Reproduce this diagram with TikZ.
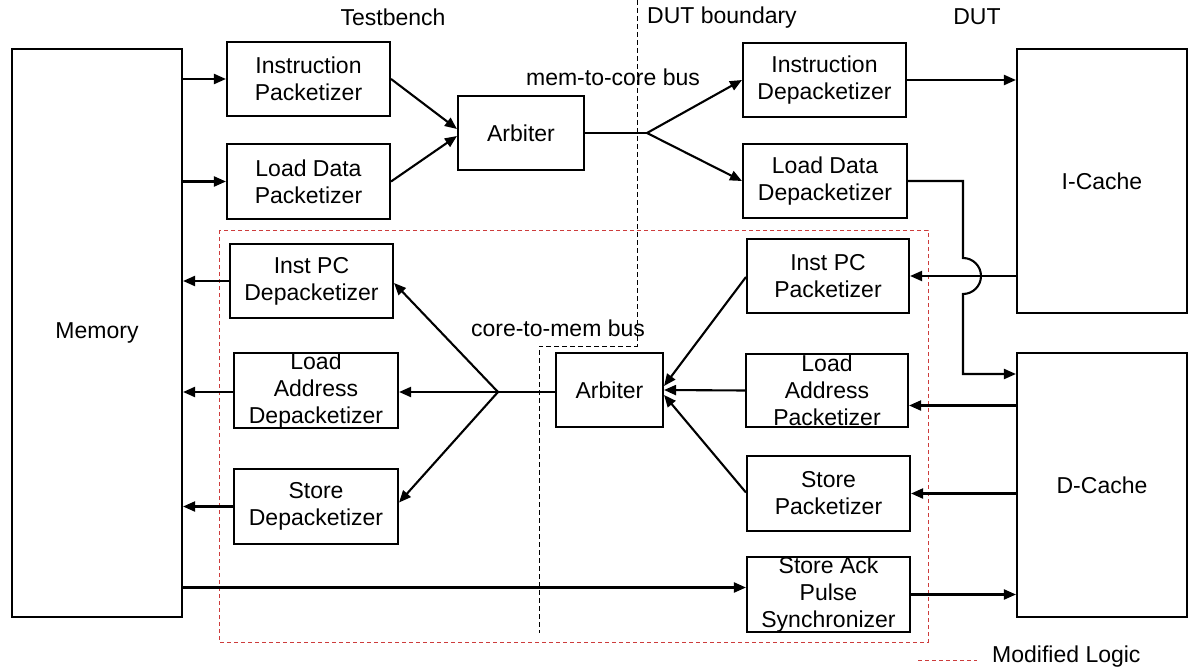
\documentclass[tikz,border=0pt]{standalone}
\usepackage{fontspec}
\setmainfont{Liberation Sans}
\usetikzlibrary{arrows.meta,calc}
\definecolor{modred}{RGB}{205,60,60}
\begin{document}
\begin{tikzpicture}[x=1pt,y=-1pt,
  font=\fontsize{23}{27}\selectfont,
  blk/.style={draw, line width=2.1pt, inner sep=0pt},
  txt/.style={align=center, inner sep=0pt},
  conn/.style={line width=2.1pt},
  arr/.style={conn, -{Triangle[length=12pt,width=10pt]}},
  bound/.style={line width=0.9pt, dash pattern=on 5pt off 3pt},
  modbox/.style={draw=modred, line width=0.9pt, dash pattern=on 4pt off 3pt},
]
\path[use as bounding box] (0,0) rectangle (1188,671);

% modified logic region and DUT boundary
\draw[modbox] (219,230) rectangle (928,642);
\coordinate (b1) at (637,0);
\coordinate (b2) at (637,346);
\coordinate (b3) at (539,346);
\coordinate (b4) at (539,633);
\draw[bound] (b1) -- (b2) -- (b3) -- (b4);

% labels
\node[txt] (tb) at (393,17) {Testbench};
\node[txt] (dutb) at (722,18) {DUT boundary};
\node[txt] (dut) at (977,17) {DUT};
\node[txt] (m2c) at (613,77) {mem-to-core bus};
\node[txt] (c2m) at (558,328) {core-to-mem bus};

% blocks
\node[blk, minimum width=170pt, minimum height=568pt, label={[txt]center:Memory}] (mem) at (97,333) {};
\node[blk, minimum width=163pt, minimum height=74pt, label={[txt]center:{Instruction\\Packetizer}}] (ip) at (308.5,79) {};
\node[blk, minimum width=163pt, minimum height=75pt, label={[txt]center:{Load Data\\Packetizer}}] (ldp) at (308.5,181.5) {};
\node[blk, minimum width=126pt, minimum height=74pt, label={[txt]center:Arbiter}] (arb1) at (521,133) {};
\node[blk, minimum width=163pt, minimum height=74pt, label={[txt]center:{Instruction\\Depacketizer}}] (idp) at (824.5,80) {};
\node[blk, minimum width=164pt, minimum height=74pt, label={[txt]center:{Load Data\\Depacketizer}}] (lddp) at (825,181) {};
\node[blk, minimum width=170pt, minimum height=264pt, label={[txt]center:I-Cache}] (icache) at (1102,181) {};
\node[blk, minimum width=170pt, minimum height=264pt, label={[txt]center:D-Cache}] (dcache) at (1102,485) {};
\node[blk, minimum width=163pt, minimum height=74pt, label={[txt]center:{Inst PC\\Depacketizer}}] (ipcd) at (311.5,281) {};
\node[blk, minimum width=164pt, minimum height=75pt, label={[txt]center:{Load\\Address\\Depacketizer}}] (lad) at (316,390.5) {};
\node[blk, minimum width=164pt, minimum height=75pt, label={[txt]center:{Store\\Depacketizer}}] (sd) at (316,506.5) {};
\node[blk, minimum width=107pt, minimum height=74pt, label={[txt]center:Arbiter}] (arb2) at (609.5,390) {};
\node[blk, minimum width=162pt, minimum height=74pt, label={[txt]center:{Inst PC\\Packetizer}}] (ipcp) at (828,276) {};
\node[blk, minimum width=162pt, minimum height=73pt, label={[txt]center:{Load\\Address\\Packetizer}}] (lap) at (827,390.5) {};
\node[blk, minimum width=163pt, minimum height=75pt, label={[txt]center:{Store\\Packetizer}}] (sp) at (828.5,493.5) {};
\node[blk, minimum width=163pt, minimum height=75pt, label={[txt]center:{Store Ack\\Pulse\\Synchronizer}}] (sack) at (828.5,594.5) {};

% testbench -> mem-to-core
\draw[arr] (mem.east |- ip.west) -- (ip.west);
\draw[arr] (mem.east |- ldp.west) -- (ldp.west);
\draw[arr] (ip.east) -- ($(arb1.west)+(0,-4)$);
\draw[arr] (ldp.east) -- ($(arb1.west)+(0,3)$);
\coordinate (br1) at (647,133);
\draw[conn] (arb1.east) -- (br1);
\draw[arr] (br1) -- (idp.west);
\draw[arr] (br1) -- (lddp.west);
\draw[arr] (idp.east) -- (idp.east -| icache.west);

% load data depacketizer -> D-cache with hop
\coordinate (jog) at (963,374);
\draw[arr] (lddp.east) -- (lddp.east -| jog)
  -- ($(jog |- ipcp.east)+(0,-18)$) arc[start angle=-90, end angle=90, radius=18]
  -- (jog) -- (jog -| dcache.west);

% caches -> packetizers
\draw[arr] (icache.west |- ipcp.east) -- (ipcp.east);
\draw[arr] ($(dcache.west |- lap.east)+(0,15)$) -- ($(lap.east)+(0,15)$);
\draw[arr] (dcache.west |- sp.east) -- (sp.east);

% packetizers -> arbiter
\draw[arr] ($(ipcp.west)+(0,1)$) -- ($(arb2.east)+(0,-4)$);
\draw[arr] (lap.west) -- (arb2.east);
\draw[arr] ($(sp.west)+(0,-1)$) -- ($(arb2.east)+(0,5)$);

% arbiter -> depacketizers
\coordinate (br2) at (498,392);
\draw[conn] ($(arb2.west)+(0,2)$) -- (br2);
\draw[arr] (br2) -- ($(ipcd.east)+(0,2)$);
\draw[arr] (br2) -- ($(lad.east)+(0,1.5)$);
\draw[arr] (br2) -- ($(sd.east)+(0,-4)$);

% depacketizers -> memory
\draw[arr] (ipcd.west) -- (ipcd.west -| mem.east);
\draw[arr] ($(lad.west)+(0,1.5)$) -- ($(lad.west -| mem.east)+(0,1.5)$);
\draw[arr] (sd.west) -- (sd.west -| mem.east);

% store ack path
\draw[arr] ($(mem.east |- sack.west)+(0,-7)$) -- ($(sack.west)+(0,-7)$);
\draw[arr] (sack.east) -- (sack.east -| dcache.west);

% legend
\coordinate (lg1) at (918,660);
\coordinate (lg2) at (977,660);
\draw[modbox] (lg1) -- (lg2);
\node[txt, anchor=west] (lgt) at (992,657) {Modified Logic};
\end{tikzpicture}
\end{document}
